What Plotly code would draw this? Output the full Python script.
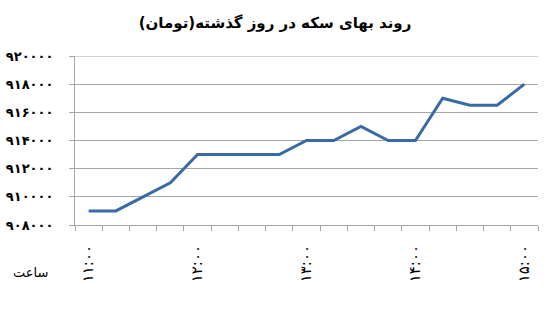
import plotly.graph_objects as go

title_text = "روند بهای سکه در روز گذشته(تومان)"
x_axis_label = "ساعت"
times = ["11:00", "11:15", "11:30", "11:45", "12:00", "12:15", "12:30", "12:45",
         "13:00", "13:15", "13:30", "13:45", "14:00", "14:15", "14:30", "14:45", "15:00"]
prices = [909000, 909000, 910000, 911000, 913000, 913000, 913000, 913000,
          914000, 914000, 915000, 914000, 914000, 917000, 916500, 916500, 918000]
labelled_times = ["11:00", "12:00", "13:00", "14:00", "15:00"]
y_ticks = [908000, 910000, 912000, 914000, 916000, 918000, 920000]

FA = str.maketrans("0123456789", "۰۱۲۳۴۵۶۷۸۹")


def fa(s):
    return str(s).translate(FA)


x_ticktext = [fa(t) if t in labelled_times else "" for t in times]
y_ticktext = ["<b>" + fa(v) + "</b>" for v in y_ticks]

FONT = "DejaVu Sans"
LINE = "#3a6aa6"
GRID = "#a6a6a6"

fig = go.Figure()
fig.add_trace(go.Scatter(
    x=times, y=prices, mode="lines",
    line=dict(color=LINE, width=3),
    hoverinfo="skip", showlegend=False,
))

fig.update_layout(
    width=550, height=312,
    margin=dict(l=75, r=12, t=56, b=87),
    paper_bgcolor="white", plot_bgcolor="white",
    font=dict(family=FONT, color="black"),
    title=dict(text="<b>" + title_text + "</b>", x=0.5, xanchor="center",
               y=1 - 23 / 312, yanchor="middle",
               font=dict(family=FONT, size=15, color="black")),
    xaxis=dict(
        type="category",
        tickvals=times, ticktext=x_ticktext,
        tickangle=-90,
        tickson="boundaries",
        ticks="outside", ticklen=5, tickcolor=GRID,
        showline=True, linecolor=GRID, linewidth=1,
        showgrid=False, zeroline=False,
        tickfont=dict(family=FONT, size=15, color="black"),
        ticklabelstandoff=13,
        range=[-0.5, len(times) - 0.5],
        automargin=False,
    ),
    yaxis=dict(
        range=[y_ticks[0], y_ticks[-1]],
        tickvals=y_ticks, ticktext=y_ticktext,
        ticks="outside", ticklen=5, tickcolor=GRID,
        showline=True, linecolor=GRID, linewidth=1,
        showgrid=True, gridcolor=GRID, gridwidth=1,
        zeroline=False,
        tickfont=dict(family=FONT, size=13, color="black"),
        ticklabelstandoff=13,
        automargin=False,
    ),
)

# top gridline at the axis maximum (hidden by plotly at the plot edge)
fig.add_shape(type="line", xref="paper", yref="y",
              x0=0, x1=1, y0=y_ticks[-1], y1=y_ticks[-1],
              line=dict(color=GRID, width=1), layer="below")

fig.add_annotation(
    text=x_axis_label, xref="paper", yref="paper",
    x=(30 - 75) / 463, y=(225 - 272) / 169,
    xanchor="center", yanchor="middle", showarrow=False,
    font=dict(family=FONT, size=13, color="black"),
)

fig.write_html("out.html")
